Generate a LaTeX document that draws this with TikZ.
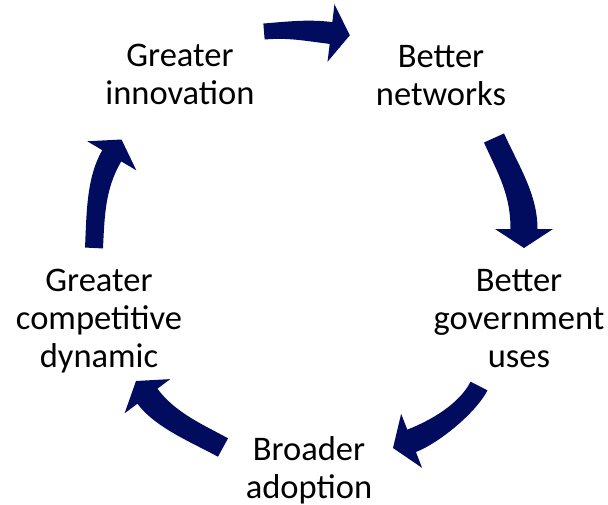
\documentclass[tikz,border=0pt]{standalone}
\usepackage{fontspec}
\setmainfont{Carlito}
\usetikzlibrary{calc}
\definecolor{navy}{RGB}{2,12,94}

% Tapered curved block arrow built from the coordinates
% #1T (tail middle), #1C1, #1C2 (controls), #1B (head base middle), #1E (tip).
% #2 = half width at the tail, #3 = half width at the head, #4 = half width of the head.
\newcommand{\cyclearrow}[4]{%
  \fill[navy]
    ($(#1T)!#2!90:(#1C1)$)
    .. controls ($(#1C1)!#2!-90:(#1T)$) and ($(#1C2)!#3!90:(#1B)$) .. ($(#1B)!#3!-90:(#1C2)$)
    -- ($(#1B)!#4!-90:(#1C2)$) -- (#1E) -- ($(#1B)!#4!90:(#1C2)$)
    -- ($(#1B)!#3!90:(#1C2)$)
    .. controls ($(#1C2)!#3!-90:(#1B)$) and ($(#1C1)!#2!90:(#1T)$) .. ($(#1T)!#2!-90:(#1C1)$)
    -- cycle;
}

\begin{document}
\begin{tikzpicture}[x=1pt,y=-1pt,
  cyctext/.style={align=center, font=\fontsize{34.5}{38}\selectfont,
    inner sep=0pt, anchor=base, text=black}]
\useasboundingbox (0,0) rectangle (608,504);

% stage labels (placed by the baseline of their last line)
\node[cyctext] (innov) at (180,104) {Greater\\innovation};
\node[cyctext] (netw)  at (441,105) {Better\\networks};
\node[cyctext] (gov)   at (519,367) {Better\\government\\uses};
\node[cyctext] (adopt) at (309,498) {Broader\\adoption};
\node[cyctext] (comp)  at (99,367) {Greater\\competitive\\dynamic};

% arrow from innovation to networks
\coordinate (aT)  at (264,31.5);
\coordinate (aC1) at (289,29.5);
\coordinate (aC2) at (306.2,30);
\coordinate (aB)  at (331,33);
\coordinate (aE)  at (349.8,35.3);
\cyclearrow{a}{8pt}{11pt}{29pt}

% arrow from networks to government uses
\coordinate (bT)  at (494,138);
\coordinate (bC1) at (508.4,169.9);
\coordinate (bC2) at (524,194);
\coordinate (bB)  at (524,229);
\coordinate (bE)  at (524,248);
\cyclearrow{b}{11pt}{13.5pt}{29pt}

% arrow from government uses to adoption
\coordinate (cT)  at (479,386);
\coordinate (cC1) at (467.75,408.25);
\coordinate (cC2) at (434.9,431.8);
\coordinate (cB)  at (411.6,440.8);
\coordinate (cE)  at (393,448);
\cyclearrow{c}{9.5pt}{12pt}{29pt}

% arrow from adoption to competitive dynamic
\coordinate (dT)  at (223,447.5);
\coordinate (dC1) at (196.6,433.1);
\coordinate (dC2) at (165.4,420.2);
\coordinate (dB)  at (147.4,396.2);
\coordinate (dE)  at (136,381);
\cyclearrow{d}{10.5pt}{12.5pt}{28.5pt}

% arrow from competitive dynamic to innovation
\coordinate (eT)  at (94,248);
\coordinate (eC1) at (95.6,216);
\coordinate (eC2) at (95.5,183.3);
\coordinate (eB)  at (111.8,155.8);
\coordinate (eE)  at (121.5,139.5);
\cyclearrow{e}{9pt}{11pt}{28.5pt}
\end{tikzpicture}
\end{document}
